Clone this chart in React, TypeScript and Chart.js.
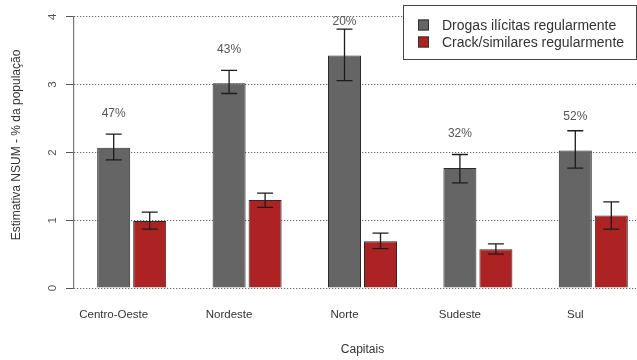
import React, { useEffect, useRef } from "react";
import { Chart, registerables } from "chart.js";

Chart.register(...registerables);

const categories = ["Centro-Oeste", "Nordeste", "Norte", "Sudeste", "Sul"];
const drugValues = [2.07, 3.02, 3.43, 1.77, 2.03];
const drugLower = [1.89, 2.87, 3.06, 1.55, 1.77];
const drugUpper = [2.27, 3.21, 3.82, 1.97, 2.32];
const crackValues = [0.99, 1.3, 0.69, 0.57, 1.07];
const crackLower = [0.87, 1.19, 0.58, 0.5, 0.87];
const crackUpper = [1.12, 1.4, 0.81, 0.65, 1.27];
const crackShareLabels = ["47%", "43%", "20%", "32%", "52%"];
const yTicks = [0, 1, 2, 3, 4];
const yTitle = "Estimativa NSUM - % da população";
const xTitle = "Capitais";

const FONT = "'Liberation Sans', Arial, sans-serif";
const GRAY = "#656565";
const RED = "#ad2323";

const errorBarPlugin = {
  id: "errorBars",
  afterDatasetsDraw(chart: any) {
    const y = chart.scales.y;
    const ctx = chart.ctx;
    ctx.save();
    chart.data.datasets.forEach((ds: any, di: number) => {
      const meta = chart.getDatasetMeta(di);
      meta.data.forEach((bar: any, i: number) => {
        const lo = y.getPixelForValue(ds.errLower[i]);
        const hi = y.getPixelForValue(ds.errUpper[i]);
        const x = bar.x;
        ctx.strokeStyle = "#1c1c1c";
        ctx.lineWidth = 1.3;
        ctx.beginPath();
        ctx.moveTo(x, lo);
        ctx.lineTo(x, hi);
        ctx.moveTo(x - 8, lo);
        ctx.lineTo(x + 8, lo);
        ctx.moveTo(x - 8, hi);
        ctx.lineTo(x + 8, hi);
        ctx.stroke();
      });
    });
    const meta0 = chart.getDatasetMeta(0);
    ctx.fillStyle = "#555";
    ctx.font = `12px ${FONT}`;
    ctx.textAlign = "center";
    ctx.textBaseline = "middle";
    meta0.data.forEach((bar: any, i: number) => {
      const py = y.getPixelForValue(drugValues[i] + 0.5);
      ctx.fillText(crackShareLabels[i], bar.x, py);
    });
    // y axis title
    ctx.save();
    ctx.translate(17, 145);
    ctx.rotate(-Math.PI / 2);
    ctx.fillStyle = "#333";
    ctx.font = `12px ${FONT}`;
    ctx.fillText(yTitle, 0, 0);
    ctx.restore();
    ctx.restore();
  },
};

const legendPlugin = {
  id: "boxLegend",
  afterDraw(chart: any) {
    const ctx = chart.ctx;
    ctx.save();
    const left = 403.5;
    const top = 5.5;
    const right = 636.5;
    const bottom = 59.5;
    ctx.fillStyle = "#fff";
    ctx.fillRect(left, top, right - left, bottom - top);
    ctx.strokeStyle = "#444";
    ctx.lineWidth = 1;
    ctx.strokeRect(left, top, right - left, bottom - top);
    const rows = [25, 42];
    chart.data.datasets.forEach((ds: any, i: number) => {
      const cy = rows[i];
      ctx.fillStyle = ds.backgroundColor;
      ctx.fillRect(418, cy - 5.5, 11, 11);
      ctx.strokeStyle = "#333";
      ctx.strokeRect(418.5, cy - 5, 10, 10);
      ctx.fillStyle = "#333";
      ctx.font = `14px ${FONT}`;
      ctx.textAlign = "left";
      ctx.textBaseline = "middle";
      ctx.fillText(ds.label, 442, cy + 1);
    });
    ctx.restore();
  },
};

export default function App() {
  const ref = useRef<HTMLCanvasElement>(null);
  useEffect(() => {
    if (!ref.current) return;
    const chart = new Chart(ref.current, {
      type: "bar",
      data: {
        labels: categories,
        datasets: [
          {
            label: "Drogas ilícitas regularmente",
            data: drugValues,
            backgroundColor: GRAY,
            borderColor: "#2a2a2a",
            borderWidth: 1,
            errLower: drugLower,
            errUpper: drugUpper,
          } as any,
          {
            label: "Crack/similares regularmente",
            data: crackValues,
            backgroundColor: RED,
            borderColor: "#2a2a2a",
            borderWidth: 1,
            errLower: crackLower,
            errUpper: crackUpper,
          } as any,
        ],
      },
      options: {
        responsive: false,
        animation: false,
        layout: { padding: { top: 14, right: 0, left: 0, bottom: 0 } },
        datasets: {
          bar: { categoryPercentage: 0.624, barPercentage: 0.9167 },
        },
        plugins: {
          legend: { display: false },
          tooltip: { enabled: false },
        },
        scales: {
          x: {
            type: "category",
            offset: true,
            grid: { display: false, drawTicks: false },
            border: { display: false },
            ticks: {
              labelOffset: -18,
              padding: 20,
              color: "#333",
              font: { family: FONT, size: 11.5 },
            },
            title: {
              display: true,
              text: xTitle,
              color: "#333",
              font: { family: FONT, size: 12 },
              padding: { top: 0, bottom: 3 },
            },
            afterFit: (s: any) => {
              s.height = 72;
            },
          },
          y: {
            min: 0,
            max: 4,
            afterBuildTicks: (s: any) => {
              s.ticks = yTicks.map((v) => ({ value: v }));
            },
            grid: {
              color: "#444",
              lineWidth: 1,
              drawTicks: true,
              tickLength: 8,
              tickColor: "#555",
              tickBorderDash: [],
            },
            border: { display: true, color: "#777", width: 1.2, dash: [1, 2] },
            ticks: {
              minRotation: 90,
              maxRotation: 90,
              crossAlign: "center",
              padding: 10,
              color: "#555",
              font: { family: FONT, size: 11.5 },
            },
            title: { display: false },
            afterFit: (s: any) => {
              s.width = 74;
            },
          },
        },
      },
      plugins: [errorBarPlugin, legendPlugin],
    } as any);
    return () => chart.destroy();
  }, []);
  return (
    <div
      style={{
        position: "fixed",
        left: 0,
        top: 0,
        width: 637,
        height: 360,
        overflow: "hidden",
        background: "#fff",
      }}
    >
      <canvas ref={ref} width={651} height={360} style={{ display: "block" }} />
    </div>
  );
}
